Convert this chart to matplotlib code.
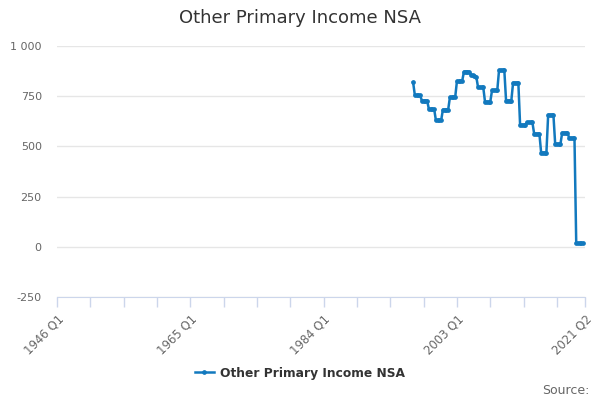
import matplotlib
matplotlib.use("Agg")
import matplotlib.pyplot as plt
from matplotlib.ticker import FuncFormatter

# quarterly categories 1946 Q1 .. 2021 Q2
quarters = []
for yr in range(1946, 2022):
    for q in range(1, 5):
        quarters.append(f"{yr} Q{q}")
quarters = quarters[:quarters.index("2021 Q2") + 1]

start_label = "1996 Q4"
income = [
    820,
    755, 755, 755, 755,
    728, 728, 728, 728,
    686, 686, 686, 686,
    630, 630, 630, 630,
    683, 683, 683, 683,
    745, 745, 745, 745,
    825, 825, 826, 827,
    872, 873, 873, 872,
    857, 854, 851, 848,
    796, 795, 795, 794,
    722, 722, 722, 722,
    779, 779, 780, 780,
    880, 880, 880, 880,
    728, 728, 728, 728,
    817, 817, 817, 817,
    607, 607, 607, 608,
    620, 620, 620, 620,
    564, 563, 563, 562,
    469, 469, 469, 469,
    657, 657, 657, 656,
    512, 512, 512, 512,
    568, 568, 568, 568,
    542, 542, 542, 542,
    18, 18, 18, 18, 18,
]

tick_labels = ["1946 Q1", "1965 Q1", "1984 Q1", "2003 Q1", "2021 Q2"]
yticks = [-250, 0, 250, 500, 750, 1000]

line_color = "#1279be"

fig = plt.figure(figsize=(6, 4), dpi=100)
ax = fig.add_axes([0.095, 0.2575, 0.880, 0.6275])

i0 = quarters.index(start_label)
xs = list(range(i0, i0 + len(income)))
ax.plot(xs, income, color=line_color, lw=1.8, marker="o", ms=2.4,
        label="Other Primary Income NSA", solid_joinstyle="round")

n = len(quarters)
ax.set_xlim(0, n - 1)
ax.set_ylim(-250, 1000)
ax.set_yticks(yticks)
ax.yaxis.set_major_formatter(FuncFormatter(lambda v, p: f"{int(v):,}".replace(",", " ")))
ax.grid(axis="y", color="#e6e6e6", lw=1)
ax.set_axisbelow(True)

ax.tick_params(axis="x", which="both", length=7, color="#ccd6eb", width=1, pad=4,
               labelsize=8.4, labelcolor="#666666")
ax.tick_params(axis="y", length=0, labelsize=8, labelcolor="#666666", pad=11)

minor = list(range(0, n, 19)) + [n - 1]
ax.set_xticks(minor, minor=True)
ax.set_xticks([quarters.index(t) for t in tick_labels])
ax.set_xticklabels(tick_labels)
for lab in ax.get_xticklabels():
    lab.set_rotation(45)
    lab.set_ha("right")
    lab.set_rotation_mode("anchor")

for s in ["top", "right", "left"]:
    ax.spines[s].set_visible(False)
ax.spines["bottom"].set_color("#ccd6eb")

fig.text(0.5, 0.955, "Other Primary Income NSA", ha="center", va="center",
         fontsize=13, color="#333333")

leg = fig.legend(loc="center", bbox_to_anchor=(0.5, 0.067), frameon=False,
                 handlelength=1.5, handletextpad=0.5,
                 prop={"weight": "bold", "size": 8.8})
for t in leg.get_texts():
    t.set_color("#333333")

fig.text(0.982, 0.025, "Source:", ha="right", va="center", fontsize=9, color="#666666")

fig.savefig("out.png", dpi=100)
